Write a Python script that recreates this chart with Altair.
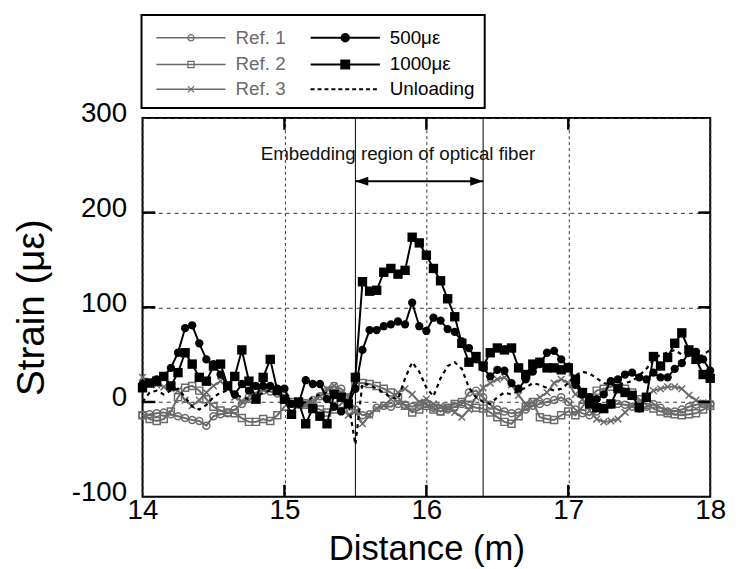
import altair as alt
import pandas as pd

# ---------------- data ----------------
distance = [14.00, 14.05, 14.10, 14.15, 14.20, 14.25, 14.30, 14.35, 14.40, 14.45,
            14.50, 14.55, 14.60, 14.65, 14.70, 14.75, 14.80, 14.85, 14.90, 14.95,
            15.00, 15.05, 15.10, 15.15, 15.20, 15.25, 15.30, 15.35, 15.40, 15.45,
            15.50, 15.55, 15.60, 15.65, 15.70, 15.75, 15.80, 15.85, 15.90, 15.95,
            16.00, 16.05, 16.10, 16.15, 16.20, 16.25, 16.30, 16.35, 16.40, 16.45,
            16.50, 16.55, 16.60, 16.65, 16.70, 16.75, 16.80, 16.85, 16.90, 16.95,
            17.00, 17.05, 17.10, 17.15, 17.20, 17.25, 17.30, 17.35, 17.40, 17.45,
            17.50, 17.55, 17.60, 17.65, 17.70, 17.75, 17.80, 17.85, 17.90, 17.95,
            18.00]

ref1 = [-14, -13, -12, -11, -13, -15, -17, -19, -20, -25,
        -15, -13, -12, -8, -2, 6, 10, 12, 11, 9,
        3, -2, -3, -1, 2, 6, 12, 17, 14, 5,
        -8, -14, -13, -6, -4, -5, -2, -3, -5, -3,
        -2, -6, -10, -8, -5, -2, 10, 12, 5, -3,
        -8, -10, -12, -11, -8, -4, -2, 0, 2, 5,
        0, -8, -12, -14, -10, -6, -3, -2, -3, -5,
        -7, -5, -2, -6, -10, -10, -8, -5, -3, -2,
        -2]

ref2 = [-14, -18, -20, -18, -10, 5, 15, 17, 12, 3,
        -5, -9, -11, -12, -17, -21, -21, -18, -20, -14,
        -5, 0, -2, -3, -5, -8, -11, -8, -2, 5,
        20, 20, 19, 17, 14, 10, 5, -4, -11, -8,
        -4, -8, -10, -6, -2, 0, -3, -6, -7, -11,
        -16, -21, -23, -15, -5, 0, -16, -18, -19, -14,
        -10, -14, -5, 5, 12, 14, 16, 17, 14, 10,
        3, -3, -7, -10, -12, -13, -14, -13, -12, -8,
        -4]

ref3 = [26, 22, 18, 16, 14, 12, 2, -4, 2, 10,
        17, 22, 15, 5, 1, 2, 8, 13, 15, 12,
        6, -1, -3, -4, -1, 6, 14, 17, 10, -14,
        -10, -23, -14, -7, -4, 3, 10, 14, 8, 0,
        3, -2, -4, -6, -11, -16, -8, 5, 15, 20,
        24, 26, 18, 7, -2, 0, 5, 10, 20, 24,
        20, 8, 3, -9, -18, -21, -20, -18, -11, -4,
        0, 6, 12, 14, 16, 16, 14, 7, 2, -1,
        -2]

load500 = [19, 20, 24, 27, 36, 52, 78, 81, 62, 45,
           40, 29, 17, 8, 19, 12, 17, 17, 17, 14,
           14, -2, -2, 23, 19, 19, 3, -5, -10, -2,
           14, 55, 76, 76, 80, 82, 85, 82, 105, 80,
           75, 89, 86, 77, 74, 64, 57, 45, 36, 27,
           34, 33, 20, 14, 24, 32, 40, 52, 54, 45,
           37, 18, 8, 5, 3, 8, 22, 24, 29, 31,
           26, 24, 31, 26, 26, 35, 41, 52, 53, 45,
           33]

load1000 = [15, 20, 22, 27, 17, 31, 52, 40, 26, 22,
            38, 40, 17, 27, 55, 22, 3, 26, 45, 12,
            3, -13, 0, -23, -7, -15, -23, 8, 5, -2,
            26, 127, 117, 118, 137, 141, 135, 139, 174, 168,
            155, 141, 128, 109, 90, 62, 42, 48, 38, 52,
            57, 55, 57, 36, 29, 40, 42, 36, 36, 34,
            36, 24, 10, -2, -6, -7, -2, 14, 10, 7,
            -6, 5, 48, 38, 47, 62, 73, 55, 45, 29,
            25]

unloading = [0, 10, 12, 8, 12, 14, 5, -5, -8, -3,
             5, 10, 12, 8, 5, 3, 5, 10, 12, 8,
             5, 0, -3, 0, 5, 8, 10, 8, 5, 0,
             -45, 20, 18, 14, 10, 5, 3, 25, 42, 32,
             15, 6, 25, 38, 42, 35, 15, 5, 0, -2,
             5, 10, 8, 12, 15, 20, 18, 15, 12, 14,
             20, 28, 32, 30, 25, 20, 18, 18, 20, 22,
             28, 35, 45, 50, 52, 55, 50, 48, 45, 50,
             55]

series_names = ["Ref. 1", "Ref. 2", "Ref. 3", "500\u03bc\u03b5", "1000\u03bc\u03b5", "Unloading"]
series_values = [ref1, ref2, ref3, load500, load1000, unloading]

x_ticks = [14, 15, 16, 17, 18]
y_ticks = [-100, 0, 100, 200, 300]
inner_x_ticks = [15, 16, 17]
inner_y_ticks = [0, 100, 200]

region = [15.5, 16.4]
annotation = "Embedding region of optical fiber"
annotation_at = 15.8
arrow_level = 233
label_level = 256

# ---------------- tables ----------------
rows = []
for name, vals in zip(series_names, series_values):
    for d, v in zip(distance, vals):
        rows.append({"d": d, "v": v, "s": name})
df = pd.DataFrame(rows)

W, H = 574, 383
FONT = "Liberation Sans"
GRAY = "#6b6b6b"

xs = alt.Scale(domain=[14, 18], nice=False, zero=False)
ys = alt.Scale(domain=[-100, 300], nice=False, zero=False)

x_axis = alt.Axis(values=x_ticks, labelExpr="'' + datum.value", title="Distance (m)",
                  labelFlush=False, labelOverlap=False, ticks=False, domain=False, grid=True,
                  gridDash=[3, 3], gridColor="#333333", gridWidth=1,
                  labelPadding=0, labelFontSize=28, labelFont=FONT, labelColor="black",
                  titleFont=FONT, titleFontSize=35, titleFontWeight="normal",
                  titleColor="black", titleY=64, titleBaseline="alphabetic")
y_axis = alt.Axis(values=y_ticks, labelExpr="'' + datum.value", title="Strain (\u03bc\u03b5)",
                  labelFlush=False, labelOverlap=False, ticks=False, domain=False, grid=True,
                  gridDash=[4, 4], gridColor="#333333", gridWidth=1,
                  labelPadding=16, labelOffset=-4, labelFontSize=28, labelFont=FONT,
                  labelColor="black", titleFont=FONT, titleFontSize=39,
                  titleFontWeight="normal", titleColor="black", titleX=-100,
                  titleY=H / 2, titleBaseline="alphabetic", titleAngle=270)


def X(field="d"):
    return alt.X(f"{field}:Q", scale=xs, axis=x_axis, title="Distance (m)")


def Y(field="v"):
    return alt.Y(f"{field}:Q", scale=ys, axis=y_axis, title="Strain (\u03bc\u03b5)")


base = alt.Chart(df)
layers = []

# embedding region vertical lines
reg_df = pd.DataFrame({"d": region})
layers.append(alt.Chart(reg_df).mark_rule(color="black", strokeWidth=1).encode(x=X()))

cross_path = "M-1,-1L1,1M-1,1L1,-1"
ref_styles = [("Ref. 1", "circle", 50), ("Ref. 2", "square", 50), ("Ref. 3", cross_path, 45)]
for name, shape, size in ref_styles:
    sub = base.transform_filter(alt.datum.s == name)
    layers.append(sub.mark_line(color=GRAY, strokeWidth=2).encode(x=X(), y=Y()))
    layers.append(sub.mark_point(shape=shape, filled=False, color=GRAY, size=size,
                                 strokeWidth=1.5, opacity=1).encode(x=X(), y=Y()))

# unloading
sub = base.transform_filter(alt.datum.s == "Unloading")
layers.append(sub.mark_line(color="black", strokeWidth=2.2, strokeDash=[4, 4]).encode(x=X(), y=Y()))

# 500 and 1000
for name, shape, size in [("500\u03bc\u03b5", "circle", 70), ("1000\u03bc\u03b5", "square", 90)]:
    sub = base.transform_filter(alt.datum.s == name)
    layers.append(sub.mark_line(color="black", strokeWidth=2).encode(x=X(), y=Y()))
    layers.append(sub.mark_point(shape=shape, filled=True, color="black", size=size,
                                 opacity=1).encode(x=X(), y=Y()))

# inward ticks
tdy = pd.DataFrame({"v": inner_y_ticks})
tdx = pd.DataFrame({"d": inner_x_ticks})
layers.append(alt.Chart(tdy).mark_rule(color="black", strokeWidth=2.5).encode(
    y=Y(), x=alt.value(0), x2=alt.value(13)))
layers.append(alt.Chart(tdy).mark_rule(color="black", strokeWidth=2.5).encode(
    y=Y(), x=alt.value(W - 12), x2=alt.value(W)))
layers.append(alt.Chart(tdx).mark_rule(color="black", strokeWidth=2.5).encode(
    x=X(), y=alt.value(0), y2=alt.value(12)))
layers.append(alt.Chart(tdx).mark_rule(color="black", strokeWidth=2.5).encode(
    x=X(), y=alt.value(H - 12), y2=alt.value(H)))

# annotation arrow and label
arr_df = pd.DataFrame({"d": [region[0]], "d2": [region[1]], "v": [arrow_level]})
layers.append(alt.Chart(arr_df).mark_rule(color="black", strokeWidth=2).encode(
    x=X(), x2="d2:Q", y=Y()))
head_l = pd.DataFrame({"d": [region[0]], "v": [arrow_level]})
head_r = pd.DataFrame({"d": [region[1]], "v": [arrow_level]})
layers.append(alt.Chart(head_l).mark_point(shape="M0,0L2,-0.7L2,0.7Z", filled=True,
                                           color="black", size=169, opacity=1).encode(x=X(), y=Y()))
layers.append(alt.Chart(head_r).mark_point(shape="M0,0L-2,-0.7L-2,0.7Z", filled=True,
                                           color="black", size=169, opacity=1).encode(x=X(), y=Y()))
txt_df = pd.DataFrame({"d": [annotation_at], "v": [label_level], "t": [annotation]})
layers.append(alt.Chart(txt_df).mark_text(font=FONT, fontSize=19, color="#111111",
                                          baseline="alphabetic", align="center").encode(
    x=X(), y=Y(), text="t:N"))

# ---------------- legend (drawn above plot) ----------------
one = pd.DataFrame({"a": [0]})
leg = alt.Chart(one)
layers.append(leg.mark_rect(fill="white", stroke="black", strokeWidth=2).encode(
    x=alt.value(-1), x2=alt.value(346), y=alt.value(-104), y2=alt.value(-10)))

legend_entries = [
    # label, col x0, row y, color, dash, shape, filled, size, text color
    ("Ref. 1", 14, -81, GRAY, None, "circle", False, 40, GRAY),
    ("Ref. 2", 14, -54, GRAY, None, "square", False, 40, GRAY),
    ("Ref. 3", 14, -29, GRAY, None, cross_path, False, 40, GRAY),
    ("500\u03bc\u03b5", 170, -81, "black", None, "circle", True, 90, "black"),
    ("1000\u03bc\u03b5", 170, -54, "black", None, "square", True, 100, "black"),
    ("Unloading", 170, -29, "black", [4, 3], None, True, 0, "black"),
]
for label, x0, yy, col, dash, shape, filled, size, tcol in legend_entries:
    rule_kwargs = dict(color=col, strokeWidth=1.6 if col == GRAY else 2)
    if dash:
        rule_kwargs["strokeDash"] = dash
    layers.append(leg.mark_rule(**rule_kwargs).encode(
        x=alt.value(x0), x2=alt.value(x0 + 70), y=alt.value(yy)))
    if shape:
        layers.append(leg.mark_point(shape=shape, filled=filled, color=col, size=size,
                                     strokeWidth=1.2, opacity=1).encode(
            x=alt.value(x0 + 35), y=alt.value(yy)))
    layers.append(leg.mark_text(font=FONT, fontSize=19, color=tcol, align="left",
                                baseline="middle").encode(
        x=alt.value(x0 + 80), y=alt.value(yy), text=alt.value(label)))

chart = alt.layer(*layers).properties(
    width=W, height=H,
    background="white",
    autosize=alt.AutoSizeParams(type="none"),
    padding={"left": 136, "top": 108, "right": 19, "bottom": 70},
).configure_view(stroke="black", strokeWidth=2)

chart.save("out.html", embed_options={"renderer": "svg", "actions": False})
